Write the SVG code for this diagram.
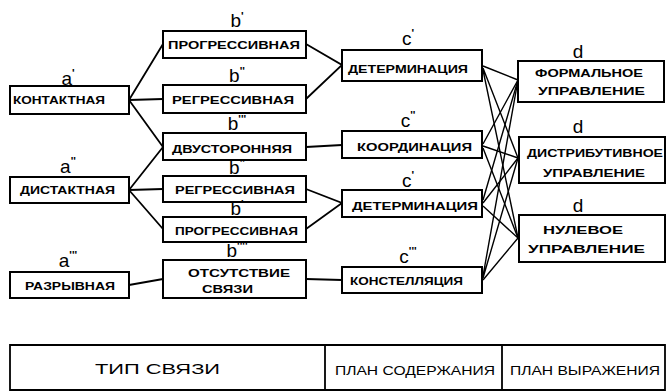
<svg xmlns="http://www.w3.org/2000/svg" width="667" height="391" viewBox="0 0 667 391">
<style>
.box{fill:#fff;stroke:#000;stroke-width:2}
.t{font-family:"Liberation Sans",Arial,sans-serif;font-weight:bold;font-size:11.5px;fill:#000}
.lb{font-family:"Liberation Sans",Arial,sans-serif;font-size:19px;fill:#000;text-anchor:middle}
.p{font-size:11px;font-weight:bold}
.tb{font-family:"Liberation Sans",Arial,sans-serif;font-size:13px;fill:#000}
.c{stroke:#000;stroke-width:1.8;fill:none}
.x{stroke:#000;stroke-width:1.4;fill:none}
</style>
<rect width="667" height="391" fill="#fff"/>
<g id="connectors">
<path class="c" d="M129,100 L163,44 M129,100 L163,99 M129,100 L163,147"/>
<path class="c" d="M129,190 L163,147 M129,190 L163,189 M129,190 L163,229"/>
<path class="c" d="M129,285 L163,279"/>
<path class="c" d="M306,44 L342,65 L306,99"/>
<path class="c" d="M306,147 L342,145"/>
<path class="c" d="M306,189 L342,203 L306,229"/>
<path class="c" d="M306,279 L342,280"/>
<path class="x" d="M483,66 L518,80 M483,68 L518,158 M483,70 L518,238"/>
<path class="x" d="M483,144 L518,80 M483,146 L518,158 M483,148 L518,238"/>
<path class="x" d="M483,200 L518,80 M483,203 L518,158 M483,206 L518,238"/>
<path class="x" d="M483,276 L518,80 M483,278 L518,158 M483,280 L518,238"/>
</g>
<g id="a1"><rect class="box" x="10" y="86" width="119" height="28"/><text class="t" x="13" y="104" textLength="92" lengthAdjust="spacingAndGlyphs" style="font-size:10px">КОНТАКТНАЯ</text><text class="lb" x="68" y="85">a<tspan class="p" dy="-8">'</tspan></text></g>
<g id="a2"><rect class="box" x="10" y="177" width="119" height="26"/><text class="t" x="20" y="194" textLength="95" lengthAdjust="spacingAndGlyphs">ДИСТАКТНАЯ</text><text class="lb" x="68" y="173">a<tspan class="p" dy="-8">''</tspan></text></g>
<g id="a3"><rect class="box" x="10" y="272" width="119" height="26"/><text class="t" x="25" y="290" textLength="90" lengthAdjust="spacingAndGlyphs">РАЗРЫВНАЯ</text><text class="lb" x="68" y="267">a<tspan class="p" dy="-8">'''</tspan></text></g>
<g id="b1"><rect class="box" x="163" y="31" width="143" height="27"/><text class="t" x="168" y="49" textLength="132" lengthAdjust="spacingAndGlyphs" style="font-size:10px">ПРОГРЕССИВНАЯ</text><text class="lb" x="237" y="27">b<tspan class="p" dy="-7">'</tspan></text></g>
<g id="b2"><rect class="box" x="163" y="85" width="143" height="28"/><text class="t" x="172" y="104" textLength="122" lengthAdjust="spacingAndGlyphs">РЕГРЕССИВНАЯ</text><text class="lb" x="237" y="82">b<tspan class="p" dy="-7">''</tspan></text></g>
<g id="b3"><rect class="box" x="163" y="133" width="143" height="27"/><text class="t" x="172" y="153" textLength="120" lengthAdjust="spacingAndGlyphs">ДВУСТОРОННЯЯ</text><text class="lb" x="237" y="130">b<tspan class="p" dy="-7">'''</tspan></text></g>
<g id="b4"><rect class="box" x="163" y="176" width="143" height="26"/><text class="t" x="175" y="194" textLength="120" lengthAdjust="spacingAndGlyphs">РЕГРЕССИВНАЯ</text><text class="lb" x="237" y="174">b<tspan class="p" dy="-7">''</tspan></text></g>
<g id="b5"><rect class="box" x="163" y="217" width="143" height="25"/><text class="t" x="175" y="235" textLength="123" lengthAdjust="spacingAndGlyphs">ПРОГРЕССИВНАЯ</text><text class="lb" x="237" y="215">b<tspan class="p" dy="-7">'</tspan></text></g>
<g id="b6"><rect class="box" x="163" y="260" width="143" height="38"/><text class="t" x="188" y="277" textLength="102" lengthAdjust="spacingAndGlyphs">ОТСУТСТВИЕ</text><text class="t" x="202" y="293" textLength="51" lengthAdjust="spacingAndGlyphs">СВЯЗИ</text><text class="lb" x="237" y="257">b<tspan class="p" dy="-7">''''</tspan></text></g>
<g id="c1"><rect class="box" x="342" y="50" width="140" height="31"/><text class="t" x="348" y="73" textLength="120" lengthAdjust="spacingAndGlyphs">ДЕТЕРМИНАЦИЯ</text><text class="lb" x="408" y="45">c<tspan class="p" dy="-8">'</tspan></text></g>
<g id="c2"><rect class="box" x="342" y="131" width="140" height="27"/><text class="t" x="357" y="151" textLength="115" lengthAdjust="spacingAndGlyphs">КООРДИНАЦИЯ</text><text class="lb" x="408" y="127">c<tspan class="p" dy="-8">''</tspan></text></g>
<g id="c3"><rect class="box" x="342" y="190" width="140" height="27"/><text class="t" x="352" y="210" textLength="126" lengthAdjust="spacingAndGlyphs">ДЕТЕРМИНАЦИЯ</text><text class="lb" x="408" y="187">c<tspan class="p" dy="-8">'</tspan></text></g>
<g id="c4"><rect class="box" x="342" y="267" width="140" height="26"/><text class="t" x="350" y="285" textLength="113" lengthAdjust="spacingAndGlyphs">КОНСТЕЛЛЯЦИЯ</text><text class="lb" x="408" y="263">c<tspan class="p" dy="-8">'''</tspan></text></g>
<g id="d1"><rect class="box" x="518" y="61" width="146" height="41"/><text class="t" x="535" y="77" textLength="108" lengthAdjust="spacingAndGlyphs">ФОРМАЛЬНОЕ</text><text class="t" x="538" y="95" textLength="107" lengthAdjust="spacingAndGlyphs">УПРАВЛЕНИЕ</text><text class="lb" x="578" y="58">d</text></g>
<g id="d2"><rect class="box" x="519" y="137" width="146" height="46"/><text class="t" x="527" y="157" textLength="136" lengthAdjust="spacingAndGlyphs">ДИСТРИБУТИВНОЕ</text><text class="t" x="543" y="177" textLength="102" lengthAdjust="spacingAndGlyphs">УПРАВЛЕНИЕ</text><text class="lb" x="578" y="133">d</text></g>
<g id="d3"><rect class="box" x="519" y="215" width="146" height="47"/><text class="t" x="543" y="234" textLength="80" lengthAdjust="spacingAndGlyphs">НУЛЕВОЕ</text><text class="t" x="528" y="253" textLength="117" lengthAdjust="spacingAndGlyphs">УПРАВЛЕНИЕ</text><text class="lb" x="578" y="212">d</text></g>
<g id="table">
<path class="c" d="M10,392 L10,345 L665,345 L665,392 M325,345 L325,392 M502,345 L502,392 M10,390 L665,390"/>
<text class="tb" x="95" y="374" style="font-size:15px" textLength="125" lengthAdjust="spacingAndGlyphs">ТИП  СВЯЗИ</text>
<text class="tb" x="335" y="375" textLength="160" lengthAdjust="spacingAndGlyphs">ПЛАН СОДЕРЖАНИЯ</text>
<text class="tb" x="510" y="375" textLength="150" lengthAdjust="spacingAndGlyphs">ПЛАН  ВЫРАЖЕНИЯ</text>
</g>
</svg>
